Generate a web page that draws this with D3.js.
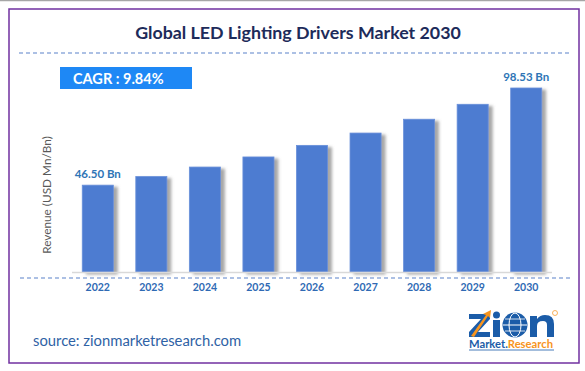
<!DOCTYPE html>
<html>
<head>
<meta charset="utf-8">
<script src="https://cdn.jsdelivr.net/npm/d3@7"></script>
<style>
  html, body { margin: 0; padding: 0; background: #fff; }
  svg { display: block; font-family: Lato, "Open Sans", sans-serif; }
</style>
</head>
<body>
<svg id="chart" width="585" height="371"></svg>
<script>
const years = ["2022", "2023", "2024", "2025", "2026", "2027", "2028", "2029", "2030"];
const revenue = [46.50, 51.1, 56.2, 61.6, 67.8, 74.4, 81.8, 89.8, 98.53];
const valueLabels = ["46.50 Bn", "", "", "", "", "", "", "", "98.53 Bn"];
const title = "Global LED Lighting Drivers Market 2030";
const cagrText = "CAGR : 9.84%";
const yTitle = "Revenue (USD Mn/Bn)";
const sourceText = "source: zionmarketresearch.com";

const svg = d3.select("#chart");
const width = 585, height = 371;

// drop shadow for bars
const defs = svg.append("defs");
const f = defs.append("filter").attr("id", "shadow")
  .attr("x", "-20%").attr("y", "-10%").attr("width", "150%").attr("height", "130%");
f.append("feDropShadow").attr("dx", 4).attr("dy", 2).attr("stdDeviation", 1.6)
  .attr("flood-color", "#777").attr("flood-opacity", 0.65);

// top gray rule + purple frame
svg.append("line").attr("x1", 0).attr("x2", width).attr("y1", 0.5).attr("y2", 0.5)
  .attr("stroke", "#a6a6a6").attr("stroke-width", 1.5);
svg.append("rect").attr("x", 9).attr("y", 9).attr("width", 570).attr("height", 354)
  .attr("fill", "none").attr("stroke", "#7030a0").attr("stroke-width", 1.5);

// title
svg.append("text").attr("x", 298).attr("y", 39).attr("text-anchor", "middle")
  .attr("font-size", 17.8).attr("font-weight", 700).attr("fill", "#1d2b5a")
  .text(title);

svg.append("line").attr("x1", 19).attr("x2", 570).attr("y1", 53).attr("y2", 53)
  .attr("stroke", "#5b82c9").attr("stroke-width", 1.2).attr("stroke-dasharray", "4,3");

// CAGR box
svg.append("rect").attr("x", 60).attr("y", 67).attr("width", 132).attr("height", 22)
  .attr("fill", "#1e88f5");
svg.append("text").attr("x", 73).attr("y", 83.5).attr("font-size", 14.5).attr("font-weight", 700)
  .attr("fill", "#fff").text(cagrText);

// scales
const x = d3.scaleBand().domain(years).range([71, 553]).paddingInner(0.42).paddingOuter(0.21);
const y = d3.scaleLinear().domain([0, 98.53]).range([272, 88]);

// bars
svg.append("g").selectAll("rect").data(revenue).join("rect")
  .attr("x", (d, i) => x(years[i]))
  .attr("y", d => y(d))
  .attr("width", x.bandwidth())
  .attr("height", d => y(0) - y(d))
  .attr("fill", "#4d7cd1")
  .attr("stroke", "#6990da").attr("stroke-width", 0.8)
  .attr("filter", "url(#shadow)");

// baseline
svg.append("line").attr("x1", 72).attr("x2", 552).attr("y1", 272.5).attr("y2", 272.5)
  .attr("stroke", "#d9d9d9").attr("stroke-width", 1.5);

// x axis
const xAxis = svg.append("g").attr("transform", "translate(0,278)")
  .call(d3.axisBottom(x).tickSize(0).tickPadding(6));
xAxis.select(".domain").remove();
xAxis.selectAll("text").attr("font-family", "Lato, 'Open Sans', sans-serif")
  .attr("font-size", 10.5).attr("font-weight", 700).attr("fill", "#2f6ab4");

svg.append("line").attr("x1", 20).attr("x2", 570).attr("y1", 278).attr("y2", 278)
  .attr("stroke", "#5b82c9").attr("stroke-width", 1.2).attr("stroke-dasharray", "4,3");

// value labels
svg.append("g").selectAll("text").data(revenue).join("text")
  .attr("x", (d, i) => x(years[i]) + x.bandwidth() / 2)
  .attr("y", d => y(d) - 7.5)
  .attr("text-anchor", "middle").attr("font-size", 11.5).attr("font-weight", 700)
  .attr("fill", "#2e75b6")
  .text((d, i) => valueLabels[i]);

// y title
svg.append("text").attr("transform", "translate(51,195) rotate(-90)")
  .attr("text-anchor", "middle").attr("font-size", 11.8).attr("fill", "#595959")
  .text(yTitle);

// source
svg.append("text").attr("x", 33).attr("y", 346).attr("font-size", 14.8)
  .attr("fill", "#2f62a5").text(sourceText);

// logo (drawn as shapes)
const blue = "#1b5ca8", orange = "#f7941d";
const logo = svg.append("g").attr("transform", "translate(469,310)");
logo.append("path").attr("d", "M0,4 L21,4 L21,9 L9,22 L21,22 L21,27 L0,27 L0,22 L12,9 L0,9 Z").attr("fill", blue);
logo.append("path").attr("d", "M2,26 L17,5 L14,4 L22,0 L21,8 L19,6 L5,27 Z").attr("fill", orange);
logo.append("rect").attr("x", 24).attr("y", 10).attr("width", 7).attr("height", 17).attr("fill", blue);
logo.append("circle").attr("cx", 27.5).attr("cy", 5).attr("r", 3.5).attr("fill", blue);
logo.append("circle").attr("cx", 46).attr("cy", 15).attr("r", 12.5).attr("fill", blue);
logo.append("ellipse").attr("cx", 46).attr("cy", 15).attr("rx", 6).attr("ry", 12)
  .attr("fill", "none").attr("stroke", "#fff").attr("stroke-width", 1);
logo.append("line").attr("x1", 34).attr("x2", 58).attr("y1", 15).attr("y2", 15).attr("stroke", "#fff").attr("stroke-width", 1);
logo.append("line").attr("x1", 36).attr("x2", 56).attr("y1", 9).attr("y2", 9).attr("stroke", "#fff").attr("stroke-width", 0.8);
logo.append("line").attr("x1", 36).attr("x2", 56).attr("y1", 21).attr("y2", 21).attr("stroke", "#fff").attr("stroke-width", 0.8);
logo.append("path").attr("d", "M61,27 L61,6 L68,6 L68,9 Q71,5 76,5 Q85,5 85,14 L85,27 L78,27 L78,15 Q78,11 74,11 Q68,11 68,16 L68,27 Z").attr("fill", blue);
logo.append("circle").attr("cx", 86).attr("cy", 3).attr("r", 2.5).attr("fill", "none")
  .attr("stroke", orange).attr("stroke-width", 0.7);
const tag = logo.append("text").attr("x", 0).attr("y", 37.5).attr("font-size", 11).attr("font-weight", 700)
  .attr("textLength", 84).attr("lengthAdjust", "spacingAndGlyphs");
tag.append("tspan").attr("fill", blue).text("Market.");
tag.append("tspan").attr("fill", orange).text("Research");
logo.append("line").attr("x1", 0).attr("x2", 85).attr("y1", 40).attr("y2", 40)
  .attr("stroke", blue).attr("stroke-width", 0.8);
</script>
</body>
</html>
